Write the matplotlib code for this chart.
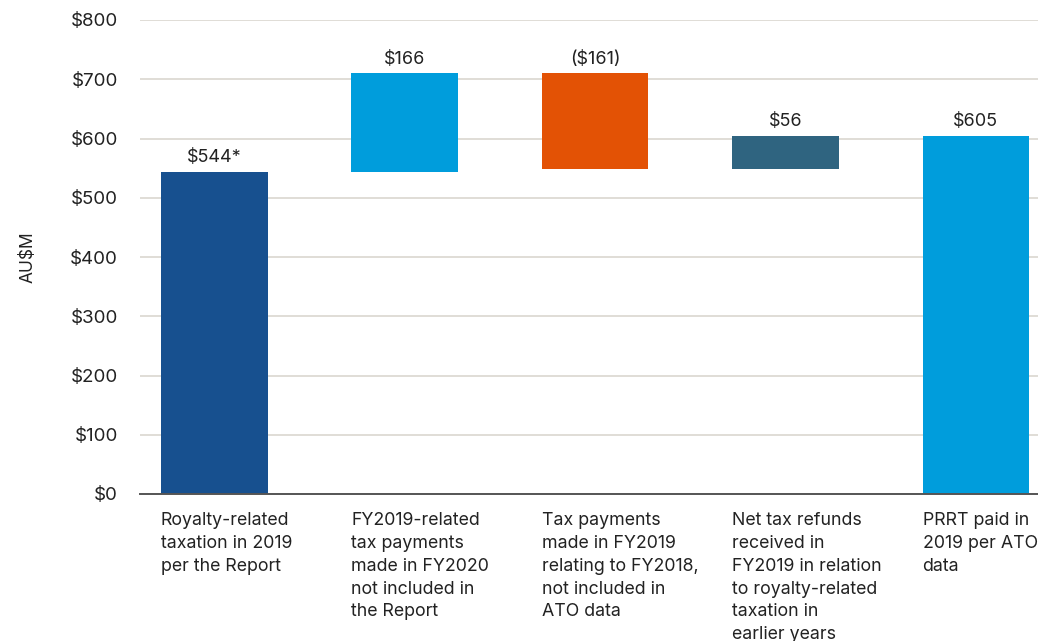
import matplotlib
matplotlib.use("Agg")
import matplotlib.pyplot as plt
from matplotlib.ticker import FuncFormatter, MultipleLocator

categories = [
    "Royalty-related\ntaxation in 2019\nper the Report",
    "FY2019-related\ntax payments\nmade in FY2020\nnot included in\nthe Report",
    "Tax payments\nmade in FY2019\nrelating to FY2018,\nnot included in\nATO data",
    "Net tax refunds\nreceived in\nFY2019 in relation\nto royalty-related\ntaxation in\nearlier years",
    "PRRT paid in\n2019 per ATO\ndata",
]
changes = [544, 166, -161, 56, 605]
kinds = ["total", "delta", "delta", "delta", "total"]
value_labels = ["\\$544*", "\\$166", "(\\$161)", "\\$56", "\\$605"]
colors = ["#17508F", "#009DDC", "#E35205", "#2F6480", "#009DDC"]

plt.rcParams['font.family'] = ['Inter', 'DejaVu Sans']

fig = plt.figure(figsize=(10.38, 6.41), dpi=100)
ax = fig.add_axes([140/1038, 1-494/641, 1-140/1038, (494-20)/641])

running = 0
bottoms, heights = [], []
for c, k in zip(changes, kinds):
    if k == "total":
        bottoms.append(0)
        heights.append(c)
        running = c
    else:
        if c >= 0:
            bottoms.append(running)
            heights.append(c)
        else:
            bottoms.append(running + c)
            heights.append(-c)
        running += c

x = list(range(len(categories)))
w = 0.56
ax.bar(x, heights, bottom=bottoms, width=w, color=colors, zorder=3)

for xi, b, h, lab in zip(x, bottoms, heights, value_labels):
    ax.text(xi, b + h + 9, lab, ha='center', va='bottom', fontsize=13, color='#222222')

for xi, cat in zip(x, categories):
    ax.annotate(cat, xy=(xi - w/2, 0), xycoords='data', xytext=(0, -13),
                textcoords='offset points', ha='left', va='top', fontsize=12.8,
                color='#222222', linespacing=1.45, annotation_clip=False)

ax.set_xlim(-0.39, 4.326)
ax.set_ylim(0, 800)
ax.yaxis.set_major_locator(MultipleLocator(100))
ax.yaxis.set_major_formatter(FuncFormatter(lambda v, p: "\\$%d" % v))
ax.tick_params(axis='y', length=0, pad=16, labelsize=13.5, labelcolor='#222222')
ax.set_xticks([])
ax.grid(axis='y', color='#DAD7CF', linewidth=1.2, zorder=0)
for s in ['left', 'right', 'top']:
    ax.spines[s].set_visible(False)
ax.spines['bottom'].set_color('#555555')
ax.spines['bottom'].set_linewidth(1.4)
ax.spines['bottom'].set_zorder(4)

fig.text(28/1038, 1-257/641, "AU\\$M", rotation=90, ha='center', va='center',
         fontsize=12.5, color='#222222')

fig.savefig("out.png", dpi=100)
